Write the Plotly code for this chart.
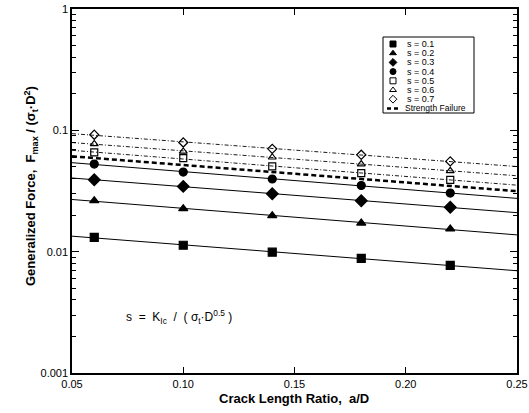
import numpy as np
import plotly.graph_objects as go

# ---- data ----
crack_ratio = [0.06, 0.10, 0.14, 0.18, 0.22]
s_labels = ["s = 0.1", "s = 0.2", "s = 0.3", "s = 0.4", "s = 0.5", "s = 0.6", "s = 0.7"]
s01 = [0.0131, 0.0113, 0.0099, 0.0088, 0.0077]
s02 = [0.0263, 0.0226, 0.0198, 0.0172, 0.0154]
s03 = [0.0391, 0.0345, 0.0300, 0.0263, 0.0232]
s04 = [0.0527, 0.0453, 0.0397, 0.0351, 0.0304]
s05 = [0.0657, 0.0590, 0.0504, 0.0444, 0.0391]
s06 = [0.0773, 0.0670, 0.0600, 0.0527, 0.0464]
s07 = [0.0920, 0.0794, 0.0704, 0.0629, 0.0554]
strength_failure = [0.0580, 0.0527, 0.0458, 0.0397, 0.0345]
strength_label = "Strength Failure"
fit_range = [0.05, 0.25]

x_ticks = [0.05, 0.10, 0.15, 0.20, 0.25]
x_ticktext = ["0.05", "0.10", "0.15", "0.20", "0.25"]
y_ticks = [0.001, 0.01, 0.1, 1]
y_ticktext = ["0.001", "0.01", "0.1", "1"]

x_title = "<b>Crack Length Ratio,  a/D</b>"
y_title = "<b>Generalized Force,  F<sub>max</sub> / (σ<sub>t</sub>·D<sup>2</sup>)</b>"
formula = "s  =  K<sub>Ic</sub>  /  ( σ<sub>t</sub>·D<sup>0.5</sup> )"

series = [s01, s02, s03, s04, s05, s06, s07]
symbols = ["square", "triangle-up", "diamond", "circle", "square-open", "triangle-up-open", "diamond-open"]
msizes = [8, 8, 9, 8, 7, 7, 7]
dashes = ["solid", "solid", "solid", "solid", "4px,2px,1px,2px", "4px,2px,1px,2px", "4px,2px,1px,2px"]

# ---- layout geometry (pixels) ----
W, H = 529, 413
ML, MR, MT, MB = 72, 12, 9, 40
PW, PH = W - ML - MR, H - MT - MB

def px_to_paper_x(px):
    return (px - ML) / PW

def px_to_paper_y(py):
    return (H - MB - py) / PH

def fit_line(xs, ys):
    c = np.polyfit(xs, np.log10(ys), 1)
    xf = np.array(fit_range)
    return xf, 10 ** np.polyval(c, xf)

fig = go.Figure()

for ys, dash in zip(series, dashes):
    xf, yf = fit_line(crack_ratio, ys)
    fig.add_trace(go.Scatter(x=xf, y=yf, mode="lines", showlegend=False,
                             line=dict(color="black", width=1 if dash == "solid" else 0.9, dash=dash),
                             hoverinfo="skip"))

xf, yf = fit_line(crack_ratio, strength_failure)
fig.add_trace(go.Scatter(x=xf, y=yf, mode="lines", showlegend=False,
                         line=dict(color="black", width=2.5, dash="5px,3px")))

for ys, lab, sym, ms in zip(series, s_labels, symbols, msizes):
    fig.add_trace(go.Scatter(x=crack_ratio, y=ys, mode="markers", name=lab, showlegend=False,
                             marker=dict(symbol=sym, size=ms, color="black",
                                         line=dict(color="black", width=1.2))))

# ---- manual compact legend ----
leg_left, leg_right, leg_top, leg_bot = 383, 474, 37, 113
row0, row_step = 44, 9.2
mark_px, text_px = 393, 405
legend_y = [px_to_paper_y(row0 + i * row_step) for i in range(len(s_labels) + 1)]

fig.add_shape(type="rect", xref="paper", yref="paper",
              x0=px_to_paper_x(leg_left), x1=px_to_paper_x(leg_right),
              y0=px_to_paper_y(leg_bot), y1=px_to_paper_y(leg_top),
              line=dict(color="black", width=1), fillcolor="white", layer="below")

for i, (lab, sym) in enumerate(zip(s_labels, symbols)):
    fig.add_trace(go.Scatter(x=[px_to_paper_x(mark_px)], y=[legend_y[i]], xaxis="x2", yaxis="y2",
                             mode="markers", showlegend=False, hoverinfo="skip", cliponaxis=False,
                             marker=dict(symbol=sym, size=6, color="black",
                                         line=dict(color="black", width=1))))
    fig.add_annotation(x=px_to_paper_x(text_px), y=legend_y[i], xref="paper", yref="paper",
                       text=lab, showarrow=False, xanchor="left", yanchor="middle",
                       font=dict(size=9))

i_sf = len(s_labels)
fig.add_shape(type="line", xref="paper", yref="paper",
              x0=px_to_paper_x(387), x1=px_to_paper_x(401),
              y0=legend_y[i_sf], y1=legend_y[i_sf],
              line=dict(color="black", width=2.5, dash="4px,3px"), layer="above")
fig.add_annotation(x=px_to_paper_x(403), y=legend_y[i_sf], xref="paper", yref="paper",
                   text=strength_label, showarrow=False, xanchor="left", yanchor="middle",
                   font=dict(size=8.5))

fig.add_annotation(x=0.0735, y=np.log10(0.00292), xref="x", yref="y", showarrow=False,
                   text=formula, font=dict(size=12), xanchor="left", yanchor="middle")

# axis titles placed as annotations to match the reference positions
fig.add_annotation(x=px_to_paper_x(31), y=px_to_paper_y(186), xref="paper", yref="paper",
                   text=y_title, textangle=-90, showarrow=False, xanchor="center", yanchor="middle",
                   font=dict(size=13))
fig.add_annotation(x=px_to_paper_x(294), y=px_to_paper_y(398), xref="paper", yref="paper",
                   text=x_title, showarrow=False, xanchor="center", yanchor="middle",
                   font=dict(size=13))

font_family = "Liberation Sans, Arial, sans-serif"
minor_vals = [m * 10 ** k for k in range(-3, 0) for m in range(2, 10)]

fig.update_layout(
    width=W, height=H,
    margin=dict(l=ML, r=MR, t=MT, b=MB, autoexpand=False),
    paper_bgcolor="white", plot_bgcolor="white",
    font=dict(family=font_family, color="black", size=11),
    showlegend=False,
    xaxis=dict(range=[0.05, 0.25], tickvals=x_ticks, ticktext=x_ticktext, automargin=False,
               ticks="inside", ticklen=6, tickcolor="black", showline=True, linecolor="black",
               linewidth=1.5, mirror="ticks", showgrid=False, zeroline=False,
               tickfont=dict(size=11)),
    yaxis=dict(type="log", range=[-3, 0], tickvals=y_ticks, ticktext=y_ticktext, automargin=False,
               ticks="inside", ticklen=7, tickcolor="black", showline=True, linecolor="black",
               linewidth=1.5, mirror="ticks", showgrid=False, zeroline=False,
               tickfont=dict(size=11),
               minor=dict(tickvals=minor_vals, ticks="inside", ticklen=4, tickcolor="black", showgrid=False)),
    xaxis2=dict(range=[0, 1], overlaying="x", visible=False, fixedrange=True),
    yaxis2=dict(range=[0, 1], overlaying="y", visible=False, fixedrange=True),
)

fig.write_html("out.html", config={"displayModeBar": False})

# remove the default page margin so the figure sits at the window's origin
with open("out.html", "r", encoding="utf-8") as f:
    html = f.read()
html = html.replace("<head>", "<head><style>html,body{margin:0;padding:0;overflow:hidden;}</style>", 1)
with open("out.html", "w", encoding="utf-8") as f:
    f.write(html)
